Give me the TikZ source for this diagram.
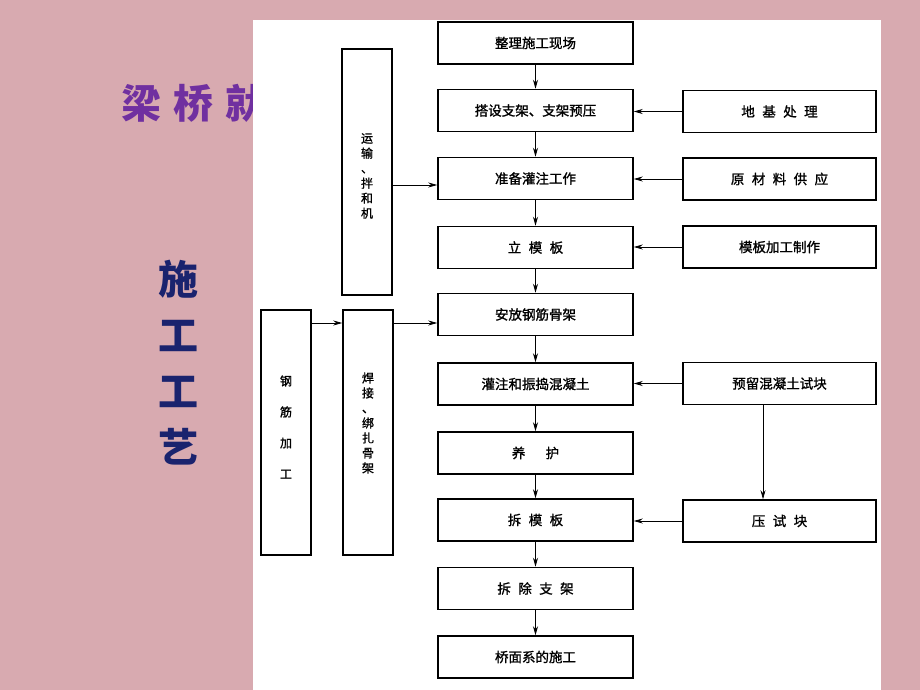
\documentclass[tikz,border=0pt]{standalone}
\usepackage{fontspec}
\setmainfont{Noto Sans CJK SC}
\newfontfamily\cjk[FakeBold=1.2]{Noto Sans CJK SC}
\newfontfamily\cjktitle{Noto Sans CJK SC}
\usetikzlibrary{arrows.meta}
\definecolor{slidebg}{RGB}{216,170,176}
\definecolor{titlepurple}{RGB}{112,48,160}
\definecolor{navy}{RGB}{26,35,110}
\tikzset{
  box/.style={draw=black, line width=1.5pt, fill=white, inner sep=0pt, font=\cjk\fontsize{13.5}{15}\selectfont},
  mainbox/.style={box, minimum width=195pt, minimum height=42pt},
  sidebox/.style={box, minimum width=193pt, minimum height=42pt},
  tallbox/.style={box, minimum width=50pt, minimum height=246pt},
  vtext/.style={font=\cjk\fontsize{12}{15}\selectfont, inner sep=0pt, align=center},
  flow/.style={line width=0.8pt, -{Stealth[length=9pt,width=5pt]}},
}
\newcommand{\gapsp}{\hspace{0.55em}}
\begin{document}
\begin{tikzpicture}[x=1pt,y=-1pt]
\useasboundingbox (0,0) rectangle (920,690);
\fill[slidebg] (0,0) rectangle (920,690);
% title partly hidden
\node[anchor=west, text=titlepurple, font=\cjktitle\bfseries\fontsize{40}{42}\selectfont] (title) at (118,103) {梁\hspace{0.3em}桥\hspace{0.3em}就};
% side text
\node[text=navy, font=\cjktitle\bfseries\fontsize{40}{56}\selectfont, align=center, inner sep=0pt] (side) at (178,363)
 {施\\工\\工\\艺};
% white panel
\fill[white] (253,20) rectangle (881,690);

% main column
\node[mainbox] (m1) at (535.5,43) {整理施工现场};
\node[mainbox] (m2) at (535.5,110.5) {搭设支架、支架预压};
\node[mainbox] (m3) at (535.5,178.5) {准备灌注工作};
\node[mainbox] (m4) at (535.5,247.5) {立\gapsp 模\gapsp 板};
\node[mainbox] (m5) at (535.5,314.5) {安放钢筋骨架};
\node[mainbox] (m6) at (535.5,384) {灌注和振捣混凝土};
\node[mainbox] (m7) at (535.5,453) {养\hspace{1.5em}护};
\node[mainbox] (m8) at (535.5,520) {拆\gapsp 模\gapsp 板};
\node[mainbox] (m9) at (535.5,588.5) {拆\gapsp 除\gapsp 支\gapsp 架};
\node[mainbox] (m10) at (535.5,657) {桥面系的施工};

% right column
\node[sidebox] (r1) at (779.5,111.5) {地\gapsp 基\gapsp 处\gapsp 理};
\node[sidebox] (r2) at (779.5,179) {原\gapsp 材\gapsp 料\gapsp 供\gapsp 应};
\node[sidebox] (r3) at (779.5,247) {模板加工制作};
\node[sidebox] (r4) at (779.5,383.5) {预留混凝土试块};
\node[sidebox] (r5) at (779.5,521) {压\gapsp 试\gapsp 块};

% left tall boxes
\node[tallbox] (t1) at (367,172) {};
\node[vtext] (t1txt) at (367,176) {运\\输\\、\\拌\\和\\机};
\node[tallbox, minimum height=245pt] (t2) at (286,432.5) {};
\node[vtext, font=\cjk\fontsize{12}{31}\selectfont] (t2txt) at (286,427) {钢\\筋\\加\\工};
\node[tallbox, minimum height=245pt] (t3) at (368,432.5) {};
\node[vtext] (t3txt) at (368,423) {焊\\接\\、\\绑\\扎\\骨\\架};

% main flow arrows
\foreach \a/\b in {m1/m2,m2/m3,m3/m4,m4/m5,m5/m6,m6/m7,m7/m8,m8/m9,m9/m10}
  \draw[flow] (\a.south) -- (\b.north);

% right to main
\foreach \r/\m in {r1/m2,r2/m3,r3/m4,r4/m6,r5/m8}
  \draw[flow] (\r.west) -- (\m.east |- \r.west);

\draw[flow] (r4.south -| 763,0) -- (r5.north -| 763,0);

% left arrows
\draw[flow] (t1.east |- 0,185) -- (m3.west |- 0,185);
\draw[flow] (t2.east |- 0,323) -- (t3.west |- 0,323);
\draw[flow] (t3.east |- 0,323) -- (m5.west |- 0,323);
\end{tikzpicture}
\end{document}
